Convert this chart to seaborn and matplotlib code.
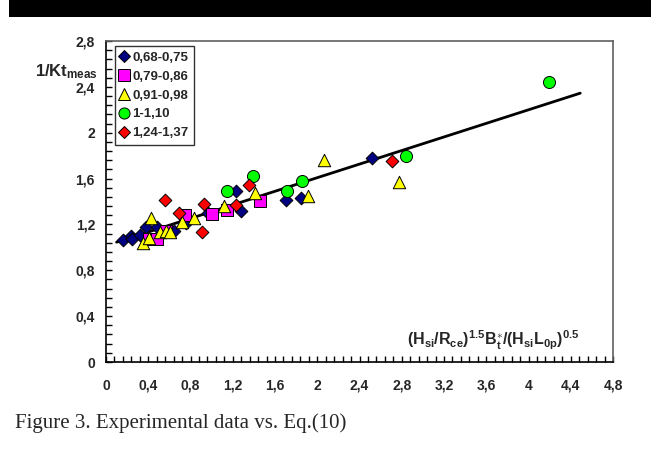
import numpy as np
import pandas as pd
import matplotlib
matplotlib.use("Agg")
import matplotlib.pyplot as plt
from matplotlib.ticker import MultipleLocator, FixedLocator
from matplotlib.lines import Line2D
from matplotlib.patches import Rectangle
import seaborn as sns

# ---- data ----
groups = ["0,68-0,75", "0,79-0,86", "0,91-0,98", "1-1,10", "1,24-1,37"]

x_068 = [0.16, 0.24, 0.25, 0.32, 0.38, 0.48, 0.64, 0.76, 0.97, 1.23, 1.28, 1.70, 1.85, 2.52]
y_068 = [1.065, 1.10, 1.07, 1.11, 1.18, 1.18, 1.14, 1.21, 1.30, 1.49, 1.32, 1.41, 1.43, 1.78]

x_079 = [0.41, 0.485, 0.57, 0.75, 1.00, 1.15, 1.46]
y_079 = [1.07, 1.07, 1.14, 1.28, 1.29, 1.33, 1.40]

x_091 = [0.35, 0.41, 0.43, 0.51, 0.57, 0.61, 0.715, 0.83, 1.12, 1.41, 1.91, 2.06, 2.77]
y_091 = [1.04, 1.08, 1.26, 1.13, 1.14, 1.13, 1.22, 1.26, 1.36, 1.47, 1.45, 1.76, 1.57]

x_100 = [1.15, 1.39, 1.71, 1.86, 2.84, 4.19]
y_100 = [1.49, 1.62, 1.49, 1.58, 1.80, 2.44]

x_124 = [0.56, 0.69, 0.91, 0.93, 1.23, 1.35, 2.71]
y_124 = [1.41, 1.30, 1.13, 1.38, 1.37, 1.545, 1.75]

fit_x = [0.10, 4.49]
fit_y = [1.045, 2.345]

x_ticks = [0, 0.4, 0.8, 1.2, 1.6, 2, 2.4, 2.8, 3.2, 3.6, 4, 4.4, 4.8]
x_ticklabels = ["0", "0,4", "0,8", "1,2", "1,6", "2", "2,4", "2,8", "3,2", "3,6", "4", "4,4", "4,8"]
y_ticks = [0, 0.4, 0.8, 1.2, 1.6, 2, 2.4, 2.8]
y_ticklabels = ["0", "0,4", "0,8", "1,2", "1,6", "2", "2,4", "2,8"]

xs = [x_068, x_079, x_091, x_100, x_124]
ys = [y_068, y_079, y_091, y_100, y_124]
df = pd.DataFrame({
    "x": sum(xs, []),
    "y": sum(ys, []),
    "g": sum([[g] * len(v) for g, v in zip(groups, xs)], []),
})

colors = {"0,68-0,75": "#000080", "0,79-0,86": "#FF00FF", "0,91-0,98": "#FFFF00",
          "1-1,10": "#00FF00", "1,24-1,37": "#FF0000"}
markers = {"0,68-0,75": "D", "0,79-0,86": "s", "0,91-0,98": "^",
           "1-1,10": "o", "1,24-1,37": "D"}
sizes = {"0,68-0,75": 42, "0,79-0,86": 75, "0,91-0,98": 80,
         "1-1,10": 75, "1,24-1,37": 42}

sns.set_theme(style="white")
plt.rcParams["font.family"] = ["Liberation Sans", "DejaVu Sans"]
plt.rcParams["mathtext.fontset"] = "custom"
plt.rcParams["mathtext.rm"] = "Liberation Sans"
plt.rcParams["mathtext.bf"] = "Liberation Sans:bold"
plt.rcParams["mathtext.it"] = "Liberation Sans:italic"

fig = plt.figure(figsize=(6.51, 4.5), dpi=100)
ax = fig.add_axes([106 / 651, 1 - 362 / 450, (613 - 106) / 651, (362 - 41) / 450])

# fit line
sns.lineplot(x=fit_x, y=fit_y, ax=ax, color="black", linewidth=2.0, zorder=2)

for g in groups:
    sub = df[df.g == g]
    sns.scatterplot(data=sub, x="x", y="y", ax=ax, color=colors[g], marker=markers[g],
                    s=sizes[g], edgecolor="black", linewidth=0.7, zorder=3, legend=False)

ax.set_xlim(0, 4.8)
ax.set_ylim(0, 2.8)
ax.set_xlabel("")
ax.set_ylabel("")
ax.xaxis.set_major_locator(FixedLocator(x_ticks))
ax.yaxis.set_major_locator(FixedLocator(y_ticks))
ax.set_xticklabels(x_ticklabels, fontsize=10, fontweight="bold")
ax.set_yticklabels(y_ticklabels, fontsize=10, fontweight="bold")
ax.xaxis.set_minor_locator(MultipleLocator(0.08))
ax.yaxis.set_minor_locator(MultipleLocator(0.08))
ax.tick_params(which="both", direction="in", length=4, width=1, color="black",
               bottom=True, left=True, top=False, right=False)
ax.tick_params(axis="x", which="major", pad=12)
ax.tick_params(axis="y", which="major", pad=8)

for s in ["left", "bottom"]:
    ax.spines[s].set_color("black")
    ax.spines[s].set_linewidth(1.2)
for s in ["top", "right"]:
    ax.spines[s].set_color("#606060")
    ax.spines[s].set_linewidth(1.2)

# legend
handles = [Line2D([], [], linestyle="none", marker=markers[g], markerfacecolor=colors[g],
                  markeredgecolor="black", markeredgewidth=0.7,
                  markersize=(6 if markers[g] == "D" else 8), label=g) for g in groups]
leg = ax.legend(handles=handles, loc="upper left", bbox_to_anchor=(0.017, 0.983),
                prop={"weight": "bold", "size": 9.5}, frameon=True, fancybox=False,
                handlelength=0.6, handletextpad=0.35, borderpad=0.4, labelspacing=0.5,
                borderaxespad=0)
leg.get_frame().set_edgecolor("black")
leg.get_frame().set_linewidth(1.0)

# axis labels
fig.text(98 / 651, 1 - 72 / 450, r"$\mathbf{1/Kt_{meas}}$", ha="right", va="center", fontsize=12)
ax.text(0.935, 0.068, r"$\mathbf{(H_{si}/R_{ce})^{1.5}B_t^{\ast}/(H_{si}L_{0p})^{0.5}}$",
        transform=ax.transAxes, ha="right", va="center", fontsize=11.5)

# top black bar and caption
fig.patches.append(Rectangle((9 / 651, 1 - 17 / 450), 1, 17 / 450, transform=fig.transFigure,
                             facecolor="black", edgecolor="none", zorder=0))
fig.text(15 / 651, 1 - 423 / 450, "Figure 3. Experimental data vs. Eq.(10)",
         family="Liberation Serif", fontsize=15, ha="left", va="center")

fig.savefig("out.png", dpi=100)
